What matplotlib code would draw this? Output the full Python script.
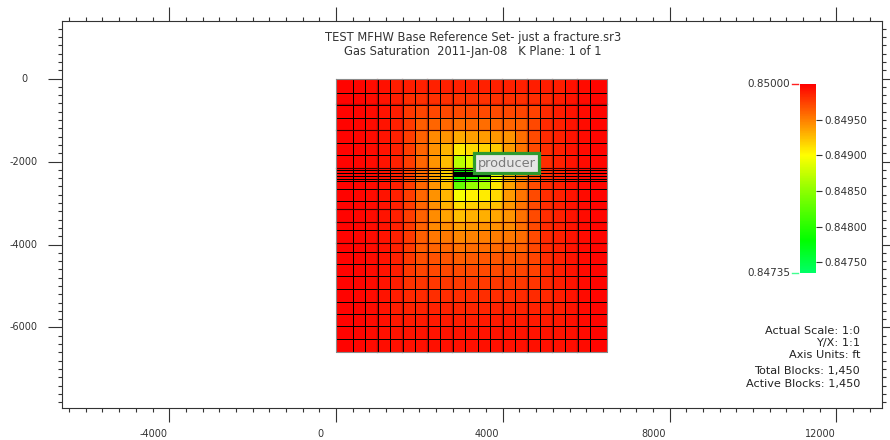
import numpy as np
import matplotlib
matplotlib.use("Agg")
import matplotlib.pyplot as plt
from matplotlib.colors import LinearSegmentedColormap, Normalize
from matplotlib.lines import Line2D
from matplotlib.ticker import MultipleLocator, FixedLocator, FormatStrFormatter
import matplotlib.transforms as mtransforms

plt.rcParams["font.family"] = ["DejaVu Sans"]

# grid block edges (ft)
x_edges = [0, 400, 700, 1000, 1300, 1600, 1900, 2200, 2500, 2800, 3100, 3400,
           3700, 4000, 4300, 4600, 4900, 5200, 5500, 5800, 6100, 6500]
depth_edges = [0, 345, 640, 940, 1245, 1560, 1855, 2160, 2215, 2280, 2345,
               2410, 2475, 2655, 2960, 3150, 3460, 3640, 3970, 4170, 4470,
               4765, 5070, 5375, 5670, 5975, 6275, 6600]
# edges drawn with a dark shadow in the viewer
shaded_x = [1000, 1600, 2200, 2800, 4000, 4600, 5200, 5800]
shaded_depth = [640, 1245, 2160, 3150, 3460, 3970]

# gas saturation per block, one row per depth row, one value per column
sat_rows = [
    [.84998, .84997, .84995, .84993, .84988, .84988, .84987, .84987, .84987, .84987, .84987, .84987, .84987, .84987, .84987, .84988, .84988, .84988, .84993, .84995, .84997],
    [.84998, .84997, .84995, .84992, .84988, .84982, .84981, .84981, .84981, .84980, .84980, .84980, .84981, .84981, .84981, .84982, .84984, .84988, .84992, .84995, .84997],
    [.84998, .84997, .84995, .84992, .84988, .84978, .84973, .84972, .84972, .84970, .84971, .84971, .84971, .84972, .84973, .84974, .84983, .84988, .84992, .84995, .84997],
    [.84998, .84997, .84995, .84992, .84987, .84977, .84963, .84960, .84959, .84955, .84957, .84957, .84958, .84960, .84961, .84972, .84983, .84987, .84992, .84995, .84997],
    [.84998, .84997, .84995, .84992, .84987, .84976, .84961, .84946, .84942, .84933, .84937, .84938, .84940, .84943, .84956, .84971, .84983, .84987, .84992, .84995, .84997],
    [.84998, .84997, .84995, .84992, .84987, .84976, .84960, .84943, .84929, .84908, .84915, .84917, .84921, .84939, .84954, .84970, .84982, .84987, .84992, .84995, .84997],
    [.84998, .84997, .84995, .84992, .84987, .84976, .84959, .84942, .84926, .84870, .84885, .84889, .84912, .84937, .84953, .84970, .84982, .84987, .84992, .84995, .84997],
    [.84998, .84997, .84995, .84992, .84987, .84975, .84957, .84937, .84918, .84780, .84796, .84840, .84900, .84932, .84950, .84968, .84982, .84987, .84992, .84995, .84997],
    [.84998, .84997, .84995, .84992, .84987, .84975, .84957, .84937, .84918, .84780, .84796, .84840, .84900, .84932, .84950, .84968, .84982, .84987, .84992, .84995, .84997],
    [.84998, .84997, .84995, .84992, .84987, .84975, .84957, .84937, .84918, .84735, .84796, .84840, .84900, .84932, .84950, .84968, .84982, .84987, .84992, .84995, .84997],
    [.84998, .84997, .84995, .84992, .84987, .84975, .84957, .84937, .84918, .84780, .84796, .84840, .84900, .84932, .84950, .84968, .84982, .84987, .84992, .84995, .84997],
    [.84998, .84997, .84995, .84992, .84987, .84975, .84957, .84937, .84918, .84780, .84796, .84840, .84900, .84932, .84950, .84968, .84982, .84987, .84992, .84995, .84997],
    [.84998, .84997, .84995, .84992, .84987, .84976, .84959, .84941, .84925, .84830, .84854, .84866, .84910, .84936, .84952, .84969, .84982, .84987, .84992, .84995, .84997],
    [.84998, .84997, .84995, .84992, .84987, .84976, .84959, .84943, .84928, .84896, .84905, .84907, .84915, .84939, .84954, .84970, .84982, .84987, .84992, .84995, .84997],
    [.84998, .84997, .84995, .84992, .84987, .84976, .84960, .84944, .84930, .84913, .84919, .84921, .84925, .84940, .84954, .84970, .84982, .84987, .84992, .84995, .84997],
    [.84998, .84997, .84995, .84992, .84987, .84976, .84961, .84945, .84935, .84925, .84930, .84931, .84934, .84941, .84955, .84970, .84982, .84987, .84992, .84995, .84997],
    [.84998, .84997, .84995, .84992, .84987, .84977, .84961, .84946, .84944, .84937, .84940, .84941, .84943, .84946, .84956, .84971, .84983, .84987, .84992, .84995, .84997],
    [.84998, .84997, .84995, .84992, .84987, .84977, .84962, .84953, .84952, .84947, .84949, .84950, .84951, .84953, .84957, .84971, .84983, .84987, .84992, .84995, .84997],
    [.84998, .84997, .84995, .84992, .84987, .84977, .84963, .84960, .84959, .84955, .84957, .84957, .84958, .84960, .84961, .84972, .84983, .84987, .84992, .84995, .84997],
    [.84998, .84997, .84995, .84992, .84987, .84978, .84968, .84967, .84966, .84963, .84964, .84965, .84965, .84966, .84967, .84973, .84983, .84987, .84992, .84995, .84997],
    [.84998, .84997, .84995, .84992, .84988, .84978, .84973, .84972, .84972, .84970, .84971, .84971, .84971, .84972, .84973, .84974, .84983, .84988, .84992, .84995, .84997],
    [.84998, .84997, .84995, .84992, .84988, .84980, .84979, .84978, .84978, .84977, .84977, .84977, .84978, .84978, .84978, .84979, .84984, .84988, .84992, .84995, .84997],
    [.84998, .84997, .84995, .84992, .84988, .84984, .84983, .84982, .84982, .84982, .84982, .84982, .84982, .84982, .84983, .84983, .84984, .84988, .84992, .84995, .84997],
    [.84998, .84997, .84995, .84992, .84988, .84986, .84986, .84986, .84986, .84985, .84985, .84985, .84986, .84986, .84986, .84986, .84987, .84988, .84992, .84995, .84997],
    [.84998, .84997, .84995, .84993, .84990, .84989, .84989, .84989, .84989, .84988, .84988, .84989, .84989, .84989, .84989, .84989, .84989, .84990, .84993, .84995, .84997],
    [.84998, .84997, .84995, .84993, .84992, .84992, .84992, .84992, .84992, .84992, .84992, .84992, .84992, .84992, .84992, .84992, .84992, .84992, .84993, .84995, .84997],
    [.84998, .84997, .84995, .84994, .84993, .84993, .84993, .84993, .84993, .84993, .84993, .84993, .84993, .84993, .84993, .84993, .84993, .84993, .84994, .84995, .84997],
]
sat_min, sat_max = 0.84735, 0.85000
cbar_ticks = [0.8495, 0.8490, 0.8485, 0.8480, 0.8475]

well_x = [2800, 3700]
well_depth = 2300
label_xy = (4094, -2036)

x_ticks = [-4000, 0, 4000, 8000, 12000]
y_ticks = [0, -2000, -4000, -6000]

title_lines = ["TEST MFHW Base Reference Set- just a fracture.sr3",
               "Gas Saturation  2011-Jan-08   K Plane: 1 of 1"]
info_lines = ["Actual Scale: 1:0", "Y/X: 1:1", "Axis Units: ft"]
block_lines = ["Total Blocks: 1,450", "Active Blocks: 1,450"]

W, H = 890, 440
fig = plt.figure(figsize=(W / 100, H / 100), dpi=100)
ax = fig.add_axes([62 / W, 1 - 408 / H, 820 / W, 387 / H])
ax.set_xlim(-6571, 13094)
ax.set_ylim(-7940, 1386)

cmap = LinearSegmentedColormap.from_list("gas", [
    (0.0, (0.0, 1.0, 0.4)),
    (0.17, (0.0, 1.0, 0.0)),
    (0.434, (0.55, 1.0, 0.0)),
    (0.6226, (1.0, 1.0, 0.0)),
    (0.8113, (1.0, 0.5, 0.0)),
    (1.0, (1.0, 0.0, 0.0)),
])
norm = Normalize(sat_min, sat_max)

X, Y = np.meshgrid(x_edges, -np.array(depth_edges))
mesh = ax.pcolormesh(X, Y, np.array(sat_rows), cmap=cmap, norm=norm,
                     edgecolors="black", linewidth=0.7, zorder=2)

# dark shadow next to some grid lines
for xs in shaded_x:
    ax.plot([xs - 14, xs - 14], [0, -depth_edges[-1]], color=(0.45, 0, 0, 0.45),
            lw=1.0, zorder=2.1)
for ds in shaded_depth:
    ax.plot([0, x_edges[-1]], [-ds + 14, -ds + 14], color=(0.45, 0, 0, 0.45),
            lw=1.0, zorder=2.1)
ax.plot([0, 0, x_edges[-1], x_edges[-1], 0],
        [0, -depth_edges[-1], -depth_edges[-1], 0, 0],
        color="#8a8a8a", lw=0.8, zorder=2.2)

ax.plot(well_x, [-well_depth, -well_depth], color="black", lw=3, zorder=3,
        solid_capstyle="butt")
ax.text(label_xy[0], label_xy[1], "producer", ha="center", va="center",
        fontsize=9.3, color="#7a7a7a", zorder=4,
        bbox=dict(boxstyle="square,pad=0.28", fc="#e6e6e6", ec="#2e9a2e", lw=2.3))

# axis ticks
ax.xaxis.set_major_locator(FixedLocator(x_ticks))
ax.yaxis.set_major_locator(FixedLocator(y_ticks))
ax.xaxis.set_minor_locator(MultipleLocator(400))
ax.yaxis.set_minor_locator(MultipleLocator(200))
ax.tick_params(which="both", direction="out", top=True, right=True,
               labelbottom=False, labelleft=False, color="#333333", width=0.8)
ax.tick_params(which="major", length=10)
ax.tick_params(which="minor", length=3)
for s in ax.spines.values():
    s.set_color("#333333")
    s.set_linewidth(0.8)

shift = mtransforms.ScaledTranslation(-16 / 100, 0, fig.dpi_scale_trans)
for xt in x_ticks:
    ax.text(xt, -0.067, str(xt), transform=ax.get_xaxis_transform() + shift,
            ha="center", va="center", fontsize=7, color="#333333")
for yt in y_ticks:
    y_fig = fig.transFigure.inverted().transform(ax.transData.transform((0, yt)))[1]
    fig.text(24 / W, y_fig, str(yt), ha="center", va="center", fontsize=7,
             color="#333333")

for i, line in enumerate(title_lines):
    fig.text(473 / W, 1 - (37 + 14.5 * i) / H, line, ha="center", va="center",
             fontsize=8.3, color="#333333")

for i, line in enumerate(info_lines):
    fig.text(860 / W, 1 - (331 + 12 * i) / H, line, ha="right", va="center",
             fontsize=8.1, color="#222222")
for i, line in enumerate(block_lines):
    fig.text(860 / W, 1 - (371 + 12.5 * i) / H, line, ha="right", va="center",
             fontsize=8.1, color="#222222")

# colour bar
cax = fig.add_axes([800 / W, 1 - 273 / H, 16 / W, 189 / H])
cb = fig.colorbar(mesh, cax=cax)
cb.outline.set_visible(False)
cb.set_ticks(cbar_ticks)
cb.ax.yaxis.set_major_formatter(FormatStrFormatter("%.5f"))
cb.ax.tick_params(length=4, width=0.8, color="#333333", labelsize=7.5,
                  labelcolor="#333333", pad=2)
cb.ax.minorticks_off()

for val, ypx, col in [(sat_max, 84, "#ff2020"), (sat_min, 273, "#40ff90")]:
    fig.text(790 / W, 1 - ypx / H, "%.5f" % val, ha="right", va="center",
             fontsize=7.5, color="#333333")
    fig.add_artist(Line2D([792 / W, 798 / W], [1 - ypx / H, 1 - ypx / H],
                          color=col, lw=1, transform=fig.transFigure))

fig.savefig("out.png", dpi=100)
